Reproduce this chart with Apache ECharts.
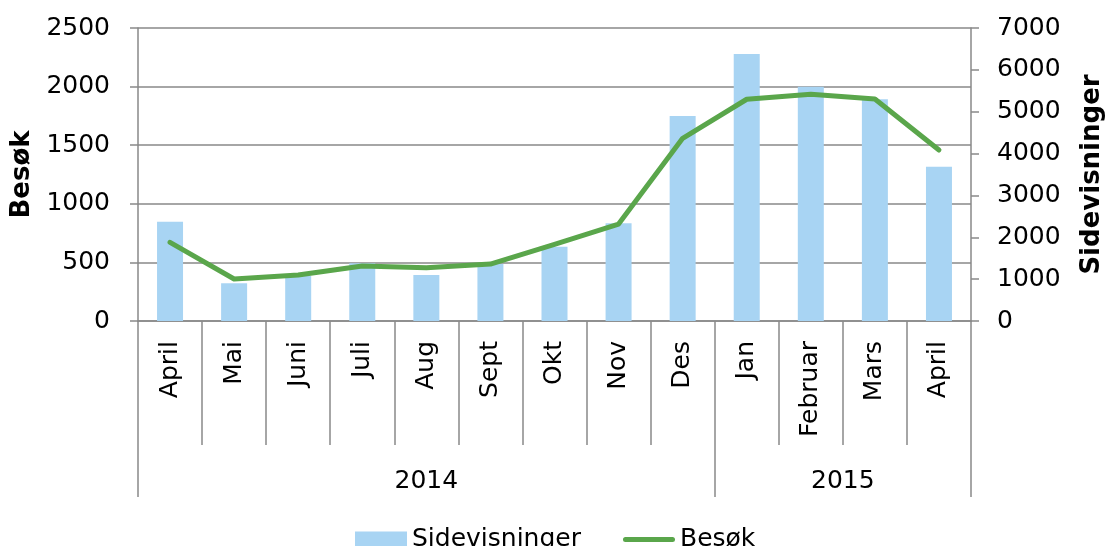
<!DOCTYPE html>
<html>
<head>
<meta charset="utf-8">
<script src="https://cdn.jsdelivr.net/npm/echarts@6/dist/echarts.min.js"></script>
<style>
  html, body { margin: 0; padding: 0; background: #fff; }
  #chart { width: 1107px; height: 546px; }
</style>
</head>
<body>
<div id="chart"></div>
<script>
// month labels, grouped by year
const months = ['April', 'Mai', 'Juni', 'Juli', 'Aug', 'Sept', 'Okt', 'Nov', 'Des', 'Jan', 'Februar', 'Mars', 'April'];
const years = ['2014', '2015'];
const monthsPerYear = [9, 4];

// Sidevisninger (bars, right axis) and Besøk (line, left axis)
const sidevisninger = [2370, 900, 1075, 1378, 1099, 1362, 1775, 2334, 4898, 6379, 5597, 5297, 3687];
const besok = [671, 358, 392, 469, 455, 486, 654, 827, 1559, 1892, 1934, 1894, 1459];

const leftTicks = { min: 0, max: 2500, interval: 500 };
const rightTicks = { min: 0, max: 7000, interval: 1000 };

// year group boundaries and label positions (in category units)
const boundaries = [0];
const yearCenters = [];
monthsPerYear.forEach((n) => {
  const start = boundaries[boundaries.length - 1];
  yearCenters.push(start + n / 2);
  boundaries.push(start + n);
});

const font = 'DejaVu Sans, Verdana, sans-serif';
const grey = '#898989';
const green = '#5AA64B';

const chart = echarts.init(document.getElementById('chart'));

chart.setOption({
  animation: false,
  textStyle: { fontFamily: font, color: '#000' },
  grid: { left: 138, right: 136, top: 28, bottom: 225, containLabel: false, outerBoundsMode: 'none' },
  legend: {
    top: 522,
    left: 350,
    itemWidth: 52,
    itemHeight: 16,
    itemGap: 42,
    textStyle: { fontSize: 25, color: '#000', fontFamily: font },
    data: [
      { name: 'Sidevisninger', icon: 'rect' },
      {
        name: 'Besøk',
        icon: 'path://M2.5,0 L49.5,0 A2.5,2.5 0 0 1 49.5,5 L2.5,5 A2.5,2.5 0 0 1 2.5,0 Z',
        itemStyle: { color: green },
        lineStyle: { width: 0 },
      },
    ],
  },
  xAxis: [
    {
      type: 'category',
      data: months,
      axisLine: { lineStyle: { color: grey, width: 1.5 } },
      axisTick: { show: true, interval: 0, length: 124, lineStyle: { color: grey, width: 1.5 } },
      axisLabel: { rotate: 90, interval: 0, margin: 20, fontSize: 25, color: '#000', fontFamily: font },
    },
    {
      type: 'value',
      position: 'bottom',
      min: 0,
      max: months.length,
      axisLine: { show: false },
      splitLine: { show: false },
      axisTick: { show: true, length: 176, customValues: boundaries, lineStyle: { color: grey, width: 1.5 } },
      axisLabel: {
        customValues: yearCenters,
        margin: 148,
        fontSize: 25,
        color: '#000',
        fontFamily: font,
        formatter: (v) => years[yearCenters.indexOf(v)] || '',
      },
    },
  ],
  yAxis: [
    {
      type: 'value',
      ...leftTicks,
      name: 'Besøk',
      nameLocation: 'middle',
      nameRotate: 90,
      nameGap: 102,
      nameTextStyle: { fontSize: 26, fontWeight: 'bold', color: '#000', fontFamily: font },
      axisLine: { show: true, lineStyle: { color: grey, width: 1.5 } },
      axisTick: { show: true, length: 8, lineStyle: { color: grey, width: 1.5 } },
      axisLabel: { fontSize: 25, margin: 28, color: '#000', fontFamily: font, formatter: (v) => String(v) },
      splitLine: { show: true, lineStyle: { color: grey, width: 1.5 } },
    },
    {
      type: 'value',
      ...rightTicks,
      position: 'right',
      name: 'Sidevisninger',
      nameLocation: 'middle',
      nameRotate: 90,
      nameGap: 108,
      nameTextStyle: { fontSize: 26, fontWeight: 'bold', color: '#000', fontFamily: font },
      axisLine: { show: true, lineStyle: { color: grey, width: 1.5 } },
      axisTick: { show: true, length: 8, lineStyle: { color: grey, width: 1.5 } },
      axisLabel: { fontSize: 25, margin: 26, color: '#000', fontFamily: font, formatter: (v) => String(v) },
      splitLine: { show: false },
    },
  ],
  series: [
    {
      name: 'Sidevisninger',
      type: 'bar',
      xAxisIndex: 0,
      yAxisIndex: 1,
      barWidth: 26,
      data: sidevisninger,
      itemStyle: { color: '#A8D4F3' },
    },
    {
      name: 'Besøk',
      type: 'line',
      xAxisIndex: 0,
      yAxisIndex: 0,
      data: besok,
      symbol: 'none',
      showSymbol: false,
      lineStyle: { color: green, width: 5, cap: 'round', join: 'round' },
      itemStyle: { color: green },
    },
  ],
});
</script>
</body>
</html>
